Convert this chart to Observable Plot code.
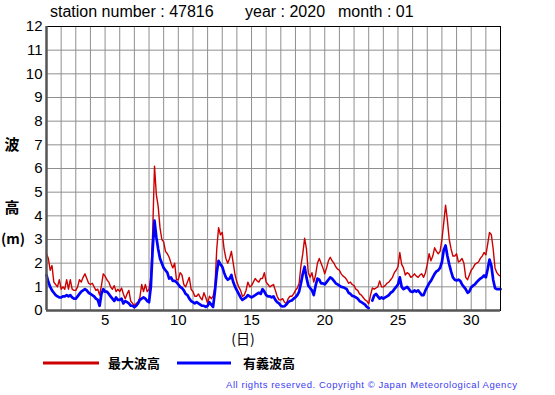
<!DOCTYPE html>
<html><head><meta charset="utf-8">
<script src="https://cdn.jsdelivr.net/npm/d3@7"></script>
<script src="https://cdn.jsdelivr.net/npm/@observablehq/plot@0.6"></script>
<style>
body{margin:0;background:#fff;}
#wrap{position:relative;width:555px;height:395px;}
</style></head><body><div id="wrap"></div>
<script>
const stationNumber = "47816";
const yearLabel = "2020";
const monthLabel = "01";
const dayTicks = [5, 10, 15, 20, 25, 30];
const heightTicks = [0,1,2,3,4,5,6,7,8,9,10,11,12];
const gridDays = d3.range(1, 33);
const seriesNames = ["最大波高", "有義波高"];
const seriesColors = ["#cc0000", "#0000ff"];
const firstDay = 1;
const stepDays = 0.125; // 3-hourly readings

// 最大波高 (maximum wave height, m)
const maxWave = [
  2.4,2.2,1.7,1.9,1.2,1.1,1.0,1.3,
  0.9,1.0,0.9,1.3,0.9,1.3,0.9,0.85,
  0.85,1.0,1.3,1.2,1.4,1.55,1.35,1.15,
  1.1,1.15,1.0,0.85,0.9,0.65,1.05,1.55,
  1.45,1.3,1.2,1.0,0.9,1.05,0.8,0.9,
  0.8,0.95,0.7,0.5,0.7,0.85,0.4,0.3,
  0.2,0.3,0.35,0.55,1.1,0.8,1.1,0.8,
  0.9,1.4,3.3,6.1,4.9,4.4,3.5,3.0,
  2.9,2.5,2.4,2.25,2.0,1.8,2.0,1.3,
  1.3,1.6,1.5,1.1,1.0,1.2,1.4,0.9,
  0.8,0.6,0.6,0.7,0.55,0.45,0.75,0.55,
  0.3,0.6,0.5,0.6,1.0,2.6,3.5,3.2,
  3.3,2.6,2.2,2.0,2.2,2.5,2.0,1.5,
  1.2,1.0,0.85,0.6,0.65,0.85,1.2,1.0,
  1.05,1.2,1.35,1.25,1.2,1.35,1.35,1.6,
  1.2,1.1,1.0,1.05,1.1,0.85,0.6,0.45,
  0.45,0.5,0.35,0.3,0.5,0.6,0.6,0.7,
  0.85,0.95,1.15,1.9,2.4,3.05,2.6,1.6,
  1.4,1.6,1.2,1.5,2.0,2.2,2.0,1.8,
  1.55,1.8,2.1,2.25,2.1,2.0,1.85,1.75,
  1.7,1.55,1.45,1.4,1.3,1.15,1.2,1.1,
  1.05,0.9,0.85,0.7,0.65,0.55,0.45,0.4,
  0.28,0.65,0.95,0.9,0.95,1.0,1.25,1.0,
  1.0,1.05,1.15,1.2,1.3,1.4,1.6,1.7,
  1.85,2.45,1.95,1.8,1.5,1.6,1.55,1.4,
  1.45,1.55,1.45,1.4,1.5,1.55,1.4,1.6,
  1.95,2.4,2.1,2.3,2.65,2.5,2.4,2.5,
  3.0,3.7,4.45,3.8,3.0,2.6,2.3,2.3,
  2.4,2.05,2.1,2.2,2.0,1.4,1.3,1.5,
  1.7,1.8,1.95,2.0,2.05,2.2,2.3,2.45,
  2.35,2.8,3.3,3.2,2.6,1.8,1.6,1.5,
  1.45
];

// 有義波高 (significant wave height, m)
const sigWave = [
  1.5,1.2,1.0,0.85,0.75,0.65,0.6,0.55,
  0.55,0.6,0.6,0.65,0.6,0.65,0.55,0.5,
  0.5,0.6,0.7,0.8,0.85,0.9,0.85,0.75,
  0.7,0.65,0.6,0.5,0.45,0.2,0.7,0.9,
  0.8,0.8,0.7,0.6,0.5,0.4,0.55,0.45,
  0.45,0.5,0.3,0.4,0.35,0.3,0.2,0.2,
  0.14,0.2,0.3,0.45,0.5,0.55,0.5,0.4,
  0.35,1.0,2.6,3.8,3.1,2.6,2.2,2.0,
  1.8,1.7,1.6,1.35,1.4,1.25,1.25,1.2,
  1.1,1.0,0.95,0.85,0.7,0.65,0.5,0.4,
  0.35,0.3,0.35,0.3,0.25,0.2,0.2,0.15,
  0.2,0.35,0.25,0.15,0.8,1.6,2.1,1.95,
  1.85,1.6,1.4,1.3,1.35,1.5,1.2,1.0,
  0.85,0.7,0.55,0.45,0.5,0.55,0.65,0.6,
  0.55,0.6,0.65,0.7,0.75,0.7,0.9,0.8,
  0.65,0.6,0.6,0.55,0.6,0.45,0.35,0.3,
  0.2,0.17,0.18,0.25,0.35,0.4,0.42,0.5,
  0.56,0.65,0.8,1.15,1.55,1.85,1.4,1.05,
  0.95,0.85,0.65,1.05,1.35,1.3,1.15,1.15,
  1.1,1.2,1.3,1.4,1.35,1.25,1.15,1.1,
  1.05,1.0,0.98,0.95,0.9,0.75,0.7,0.62,
  0.6,0.55,0.5,0.4,0.35,0.3,0.25,0.15,
  0.1,null,0.42,0.63,0.7,0.6,0.5,0.55,
  0.5,0.55,0.6,0.65,0.75,0.8,0.9,1.0,
  1.1,1.4,1.0,0.9,0.95,1.0,0.9,0.8,
  0.78,0.85,0.8,0.85,0.75,0.65,0.65,0.85,
  1.0,1.15,1.25,1.4,1.55,1.65,1.7,1.8,
  2.05,2.55,2.75,2.3,1.95,1.65,1.4,1.3,
  1.27,1.3,1.25,1.1,1.0,0.9,0.75,0.8,
  0.98,1.05,1.1,1.2,1.28,1.35,1.4,1.48,
  1.4,1.75,2.15,1.9,1.3,0.95,0.9,0.9,
  0.9
];

const toRows = arr => arr.map((v, i) => ({day: firstDay + i * stepDays, h: v}));
const maxRows = toRows(maxWave);
const sigRows = toRows(sigWave);

const font = '"Liberation Sans", Arial, sans-serif';
const cjk = '"Noto Sans CJK JP", sans-serif';

const chart = Plot.plot({
  width: 555, height: 395,
  marginTop: 26, marginBottom: 85, marginLeft: 46, marginRight: 55,
  style: {fontFamily: font, fontSize: "15px", color: "#000", background: "#fff"},
  x: {domain: [1, 32], label: null},
  y: {domain: [0, 12], label: null},
  marks: [
    Plot.gridX(gridDays, {stroke: "#8f8f8f", strokeOpacity: 1, strokeWidth: 1}),
    Plot.gridY(heightTicks, {stroke: "#8f8f8f", strokeOpacity: 1, strokeWidth: 1}),
    Plot.line(maxRows, {x: "day", y: "h", stroke: seriesColors[0], strokeWidth: 1.4}),
    Plot.line(sigRows, {x: "day", y: "h", stroke: seriesColors[1], strokeWidth: 2.7}),
    Plot.frame({stroke: "#000", strokeWidth: 1}),
    Plot.ruleX([1], {stroke: "#555", strokeWidth: 2.5}),
    Plot.ruleY([0], {stroke: "#555", strokeWidth: 2.5}),
    Plot.axisX(dayTicks, {tickSize: 0, tickPadding: 4, fontSize: 15, label: null}),
    Plot.axisY(heightTicks, {tickSize: 0, tickPadding: 4, fontSize: 15, label: null})
  ]
});
document.getElementById("wrap").appendChild(chart);

const svg = d3.select(chart);
const t = (x, y, s, opts = {}) => {
  const el = svg.append("text").attr("x", x).attr("y", y).text(s)
    .attr("font-family", opts.family || font)
    .attr("font-size", opts.size || 16)
    .attr("fill", opts.fill || "#000")
    .attr("font-weight", opts.weight || "normal")
    .attr("text-anchor", opts.anchor || "start");
  if (opts.len) el.attr("textLength", opts.len).attr("lengthAdjust", "spacing");
  return el;
};
t(50, 17, `station number : ${stationNumber}`);
t(245, 17, `year : ${yearLabel}`);
t(338, 17, `month : ${monthLabel}`);
t(12, 150, "波", {family: cjk, size: 15, weight: "bold", anchor: "middle"});
t(12, 213, "高", {family: cjk, size: 15, weight: "bold", anchor: "middle"});
t(13, 244, "(m)", {family: cjk, size: 14, weight: "bold", anchor: "middle"});
t(243, 344, "(日)", {family: cjk, size: 14, anchor: "middle"});
// legend
svg.append("line").attr("x1", 43).attr("x2", 99).attr("y1", 363).attr("y2", 363)
  .attr("stroke", seriesColors[0]).attr("stroke-width", 3);
t(108, 368, seriesNames[0], {family: cjk, size: 13, weight: "bold"});
svg.append("line").attr("x1", 177).attr("x2", 231).attr("y1", 363).attr("y2", 363)
  .attr("stroke", seriesColors[1]).attr("stroke-width", 3);
t(243, 368, seriesNames[1], {family: cjk, size: 13, weight: "bold"});
t(226, 388, "All rights reserved. Copyright © Japan Meteorological Agency",
  {size: 9.5, fill: "#3c3cf0", len: 291});
</script></body></html>
